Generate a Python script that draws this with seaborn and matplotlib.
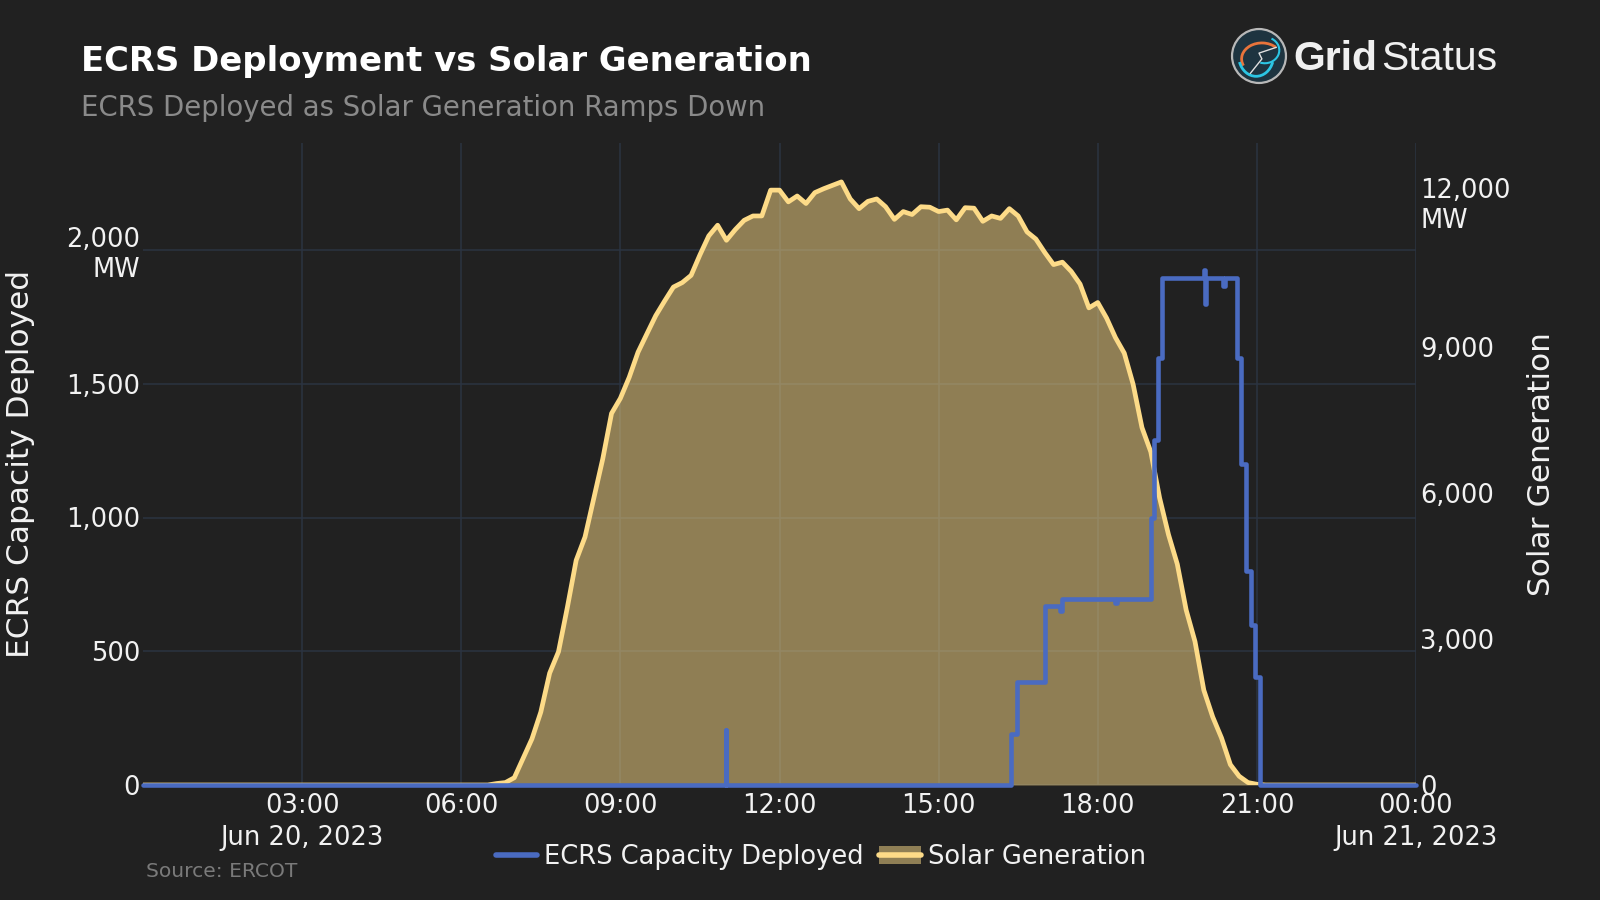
import numpy as np
import pandas as pd
import matplotlib
matplotlib.use("Agg")
import matplotlib.pyplot as plt
import matplotlib.dates as mdates
import seaborn as sns
from matplotlib.lines import Line2D
from matplotlib.patches import Patch, Circle, Arc

# ---------------- data ----------------
day_start = "2023-06-20 00:00"
day_end = "2023-06-21 00:00"

# Solar generation (MW), 10-minute readings starting 06:30
solar_start = "2023-06-20 06:30"
solar_mw = [0, 30, 50, 150, 550, 950, 1500, 2300, 2740, 3650, 4620, 5100, 5900,
            6700, 7640, 7950, 8383, 8900, 9277, 9650, 9950, 10238, 10330, 10479,
            10900, 11290, 11509, 11200, 11420, 11610, 11700, 11700, 12231, 12231,
            11990, 12110, 11956, 12180, 12260, 12330, 12400, 12050, 11850, 12000,
            12050, 11890, 11630, 11790, 11730, 11890, 11880, 11790, 11820, 11620,
            11870, 11860, 11590, 11700, 11650, 11850, 11700, 11372, 11225, 10950,
            10700, 10750, 10560, 10300, 9810, 9920, 9600, 9200, 8880, 8240, 7350,
            6850, 5900, 5150, 4540, 3600, 2950, 1950, 1402, 968, 420, 180, 50, 15, 0]

# ECRS capacity deployed (MW) at each change point
ecrs_times = ["00:00", "10:59", "11:00", "16:22", "16:29", "17:00", "17:17", "17:20",
              "18:19", "18:22", "19:00", "19:04", "19:08", "19:13", "20:00", "20:01",
              "20:02", "20:22", "20:24", "20:37", "20:42", "20:48", "20:53", "20:58",
              "21:03", "24:00"]
ecrs_mw = [0, 205, 0, 190, 386, 670, 650, 695, 680, 695, 1000, 1290, 1595, 1895,
           1925, 1800, 1895, 1865, 1895, 1595, 1200, 800, 600, 405, 0, 0]

left_ticks = [0, 500, 1000, 1500, 2000]
left_labels = ["0", "500", "1,000", "1,500", "2,000\nMW"]
right_ticks = [0, 3000, 6000, 9000, 12000]
right_labels = ["0", "3,000", "6,000", "9,000", "12,000\nMW"]
x_tick_hours = [3, 6, 9, 12, 15, 18, 21, 24]
x_tick_labels = ["03:00\nJun 20, 2023", "06:00", "09:00", "12:00", "15:00",
                 "18:00", "21:00", "00:00\nJun 21, 2023"]

# ---------------- frames ----------------
t0 = pd.Timestamp(day_start)
solar_t = pd.date_range(solar_start, periods=len(solar_mw), freq="10min")
solar_df = pd.DataFrame({
    "time": [t0] + list(solar_t) + [pd.Timestamp(day_end)],
    "mw": [0] + solar_mw + [0],
})
ecrs_df = pd.DataFrame({
    "time": [t0 + pd.Timedelta(hours=int(s[:2]), minutes=int(s[3:])) for s in ecrs_times],
    "mw": ecrs_mw,
})

# ---------------- style ----------------
BG = "#212121"
GRID = "#2B3441"
TXT = "#F2F2F2"
SOLAR = "#FDDB88"
ECRS = "#4A6BC1"

sns.set_style("dark")
plt.rcParams["font.family"] = ["DejaVu Sans"]

fig = plt.figure(figsize=(16, 9), dpi=100, facecolor=BG)
ax = fig.add_axes([143 / 1600, 1 - 785 / 900, (1416 - 143) / 1600, (785 - 143) / 900])
ax.set_facecolor(BG)
ax2 = ax.twinx()
ax3 = ax.twinx()
for a in (ax2, ax3):
    a.patch.set_visible(False)

# solar (right axis)
ax2.fill_between(solar_df["time"], solar_df["mw"], 0, color=SOLAR, alpha=0.5, lw=0)
sns.lineplot(data=solar_df, x="time", y="mw", ax=ax2, color=SOLAR, lw=3.4,
             estimator=None, legend=False)

# ECRS (left axis scale, drawn on top)
sns.lineplot(data=ecrs_df, x="time", y="mw", ax=ax3, color=ECRS, lw=3.3,
             estimator=None, legend=False, drawstyle="steps-post", clip_on=False)

xmin = mdates.date2num(pd.Timestamp(day_start))
xmax = mdates.date2num(pd.Timestamp(day_end))
ax.set_xlim(xmin, xmax)
ax.set_xticks([mdates.date2num(t0 + pd.Timedelta(hours=h)) for h in x_tick_hours])
ax.set_xticklabels(x_tick_labels, linespacing=1.3)

ax.set_ylim(0, 2400)
ax3.set_ylim(0, 2400)
ax2.set_ylim(0, 13200)
ax.set_yticks(left_ticks)
ax.set_yticklabels(left_labels)
ax2.set_yticks(right_ticks)
ax2.set_yticklabels(right_labels)
ax3.yaxis.set_visible(False)

for a in (ax, ax2, ax3):
    a.set_xlabel("")
    a.set_ylabel("")
    for s in a.spines.values():
        s.set_visible(False)

ax.grid(True, color=GRID, lw=1.1)
ax.set_axisbelow(True)
ax2.grid(False)
ax3.grid(False)
ax.tick_params(axis="x", length=0, labelsize=18.5, labelcolor=TXT, pad=6)
ax.tick_params(axis="y", length=0, labelsize=18.5, labelcolor=TXT, pad=2)
ax2.tick_params(axis="y", length=0, labelsize=18.5, labelcolor=TXT, pad=3)

# ---------------- text ----------------
fig.text(80.6 / 1600, 1 - 70.5 / 900, "ECRS Deployment vs Solar Generation",
         fontsize=24.4, fontweight="bold", color="white", va="baseline", ha="left")
fig.text(80.6 / 1600, 1 - 116 / 900, "ECRS Deployed as Solar Generation Ramps Down",
         fontsize=19.8, color="#8A8A8A", va="baseline", ha="left")
fig.text(20.4 / 1600, 1 - 464 / 900, "ECRS Capacity Deployed", rotation=90,
         fontsize=22.5, color=TXT, ha="center", va="center")
fig.text(1542 / 1600, 1 - 464 / 900, "Solar Generation", rotation=90,
         fontsize=22.5, color=TXT, ha="center", va="center")
fig.text(146 / 1600, 1 - 877 / 900, "Source: ERCOT", fontsize=14.6,
         color="#7A7A7A", va="baseline", ha="left")

# legend
handles = [Line2D([], [], color=ECRS, lw=4),
           (Patch(facecolor="#8F7F55", edgecolor="none"), Line2D([], [], color=SOLAR, lw=4))]
fig.legend(handles, ["ECRS Capacity Deployed", "Solar Generation"],
           loc="center", bbox_to_anchor=(821 / 1600, 1 - 857 / 900), ncol=2,
           frameon=False, fontsize=18.5, labelcolor=TXT, handlelength=1.6,
           handletextpad=0.3, columnspacing=0.6)

# logo
lax = fig.add_axes([(1259 - 29) / 1600, 1 - (56 + 29) / 900, 58 / 1600, 58 / 900])
lax.set_xlim(-1, 1)
lax.set_ylim(-1, 1)
lax.set_aspect("equal")
lax.axis("off")
lax.add_patch(Circle((0, 0), 0.93, facecolor="#1E3440", edgecolor="#B8B8B8", lw=1.6))
lax.add_patch(Arc((0.1, -0.1), 1.4, 1.1, theta1=40, theta2=200, color="#E8743B", lw=2))
lax.add_patch(Arc((-0.1, 0.0), 1.2, 1.4, theta1=200, theta2=340, color="#2CC6E4", lw=2))
lax.add_patch(Arc((0.2, 0.2), 1.0, 0.9, theta1=250, theta2=60, color="#2CC6E4", lw=1.5))
lax.plot([-0.3, 0.1, 0.0, 0.6], [-0.6, -0.1, 0.1, 0.3], color="#E0E0E0", lw=1)

fig.text(1293 / 1600, 1 - 70 / 900, "Grid", fontfamily="Liberation Sans",
         fontweight="bold", fontsize=29.5, color="#F0F0F0", va="baseline")
fig.text(1381 / 1600, 1 - 70 / 900, "Status", fontfamily="Liberation Sans",
         fontsize=29.5, color="#F0F0F0", va="baseline")

fig.savefig("out.png", dpi=100, facecolor=BG)
